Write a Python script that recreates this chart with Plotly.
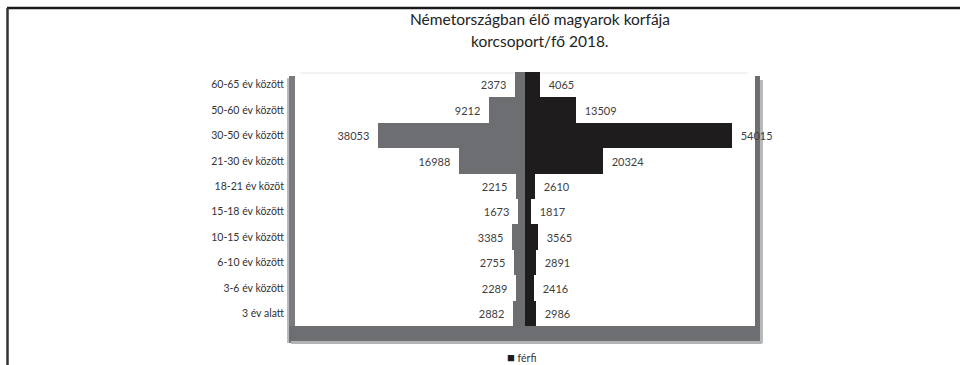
import plotly.graph_objects as go

# Age groups, bottom to top
age_groups = [
    "3 év alatt", "3-6 év között", "6-10 év között", "10-15 év között",
    "15-18 év között", "18-21 év közöt", "21-30 év között", "30-50 év között",
    "50-60 év között", "60-65 év között",
]
female = [2882, 2289, 2755, 3385, 1673, 2215, 16988, 38053, 9212, 2373]
male = [2986, 2416, 2891, 3565, 1817, 2610, 20324, 54015, 13509, 4065]

title_lines = ["Németországban élő magyarok korfája", "korcsoport/fő 2018."]
legend_label = "férfi"

W, H = 960, 365
L, R, T, B = 294, 755, 72, 326  # plot area in pixels

FEMALE_COLOR = "#6d6e71"
MALE_COLOR = "#1f1c1d"


def px(x):
    return (x - L) / (R - L)


def py(y):
    return (B - y) / (B - T)


fig = go.Figure()
fig.add_trace(go.Bar(
    y=age_groups, x=[-v for v in female], orientation="h",
    name="nő", showlegend=False,
    marker=dict(color=FEMALE_COLOR, line=dict(width=0)),
    text=[f"{v}  " for v in female], textposition="outside",
    textfont=dict(size=11, color="#404040"), cliponaxis=False,
    hoverinfo="skip",
))
fig.add_trace(go.Bar(
    y=age_groups, x=male, orientation="h",
    name=legend_label, showlegend=False,
    marker=dict(color=MALE_COLOR, line=dict(width=0)),
    text=[f"  {v}" for v in male], textposition="outside",
    textfont=dict(size=11, color="#404040"), cliponaxis=False,
    hoverinfo="skip",
))

shapes = [
    # outer frame
    dict(type="line", xref="paper", yref="paper", x0=px(7), x1=px(960), y0=py(8), y1=py(8),
         line=dict(color="#1a1a1a", width=2.5), layer="above"),
    dict(type="line", xref="paper", yref="paper", x0=px(7.5), x1=px(7.5), y0=py(8), y1=py(366),
         line=dict(color="#333333", width=2.5), layer="above"),
    # chart walls and floor
    dict(type="rect", xref="paper", yref="paper", x0=px(289), x1=px(295), y0=py(76), y1=py(343),
         fillcolor="#7a7b7e", line=dict(width=0), layer="below"),
    dict(type="rect", xref="paper", yref="paper", x0=px(287), x1=px(289), y0=py(78), y1=py(343),
         fillcolor="#b9babc", line=dict(width=0), layer="below"),
    dict(type="rect", xref="paper", yref="paper", x0=px(289), x1=px(760), y0=py(326), y1=py(341),
         fillcolor="#6d6e71", line=dict(width=0), layer="above"),
    dict(type="rect", xref="paper", yref="paper", x0=px(291), x1=px(762), y0=py(341), y1=py(344),
         fillcolor="#b3b4b6", line=dict(width=0), layer="above"),
    dict(type="rect", xref="paper", yref="paper", x0=px(755), x1=px(760), y0=py(76), y1=py(341),
         fillcolor="#6d6e71", line=dict(width=0), layer="below"),
    dict(type="rect", xref="paper", yref="paper", x0=px(760), x1=px(763), y0=py(80), y1=py(343),
         fillcolor="#b8b9bb", line=dict(width=0), layer="below"),
    dict(type="line", xref="paper", yref="paper", x0=px(300), x1=px(748), y0=py(73), y1=py(73),
         line=dict(color="#e6e6e6", width=1), layer="below"),
]

annotations = [
    dict(text=title_lines[0], x=px(540), y=py(19), xref="paper", yref="paper",
         xanchor="center", yanchor="middle", showarrow=False,
         font=dict(size=15.5, color="#222222")),
    dict(text=title_lines[1], x=px(540), y=py(41), xref="paper", yref="paper",
         xanchor="center", yanchor="middle", showarrow=False,
         font=dict(size=15.5, color="#222222")),
    # legend entry for the male series
    dict(text=f"<span style='color:{MALE_COLOR};font-size:13px'>■</span> {legend_label}",
         x=px(521), y=py(357), xref="paper", yref="paper",
         xanchor="center", yanchor="middle", showarrow=False,
         font=dict(size=10.5, color="#333333")),
]

fig.update_layout(
    width=W, height=H,
    margin=dict(l=L, r=W - R, t=T, b=H - B, autoexpand=False),
    paper_bgcolor="white", plot_bgcolor="white",
    barmode="relative", bargap=0,
    font=dict(family="Lato, Carlito, 'Open Sans', sans-serif", color="#333333"),
    xaxis=dict(range=[-60000, 60000], visible=False, fixedrange=True),
    yaxis=dict(
        categoryorder="array", categoryarray=age_groups,
        showgrid=False, zeroline=False, showline=False, ticks="",
        tickfont=dict(size=10.5, color="#333333"), ticklabelstandoff=9,
        automargin=False,
    ),
    showlegend=False,
    shapes=shapes,
    annotations=annotations,
)

fig.write_html("out.html")
